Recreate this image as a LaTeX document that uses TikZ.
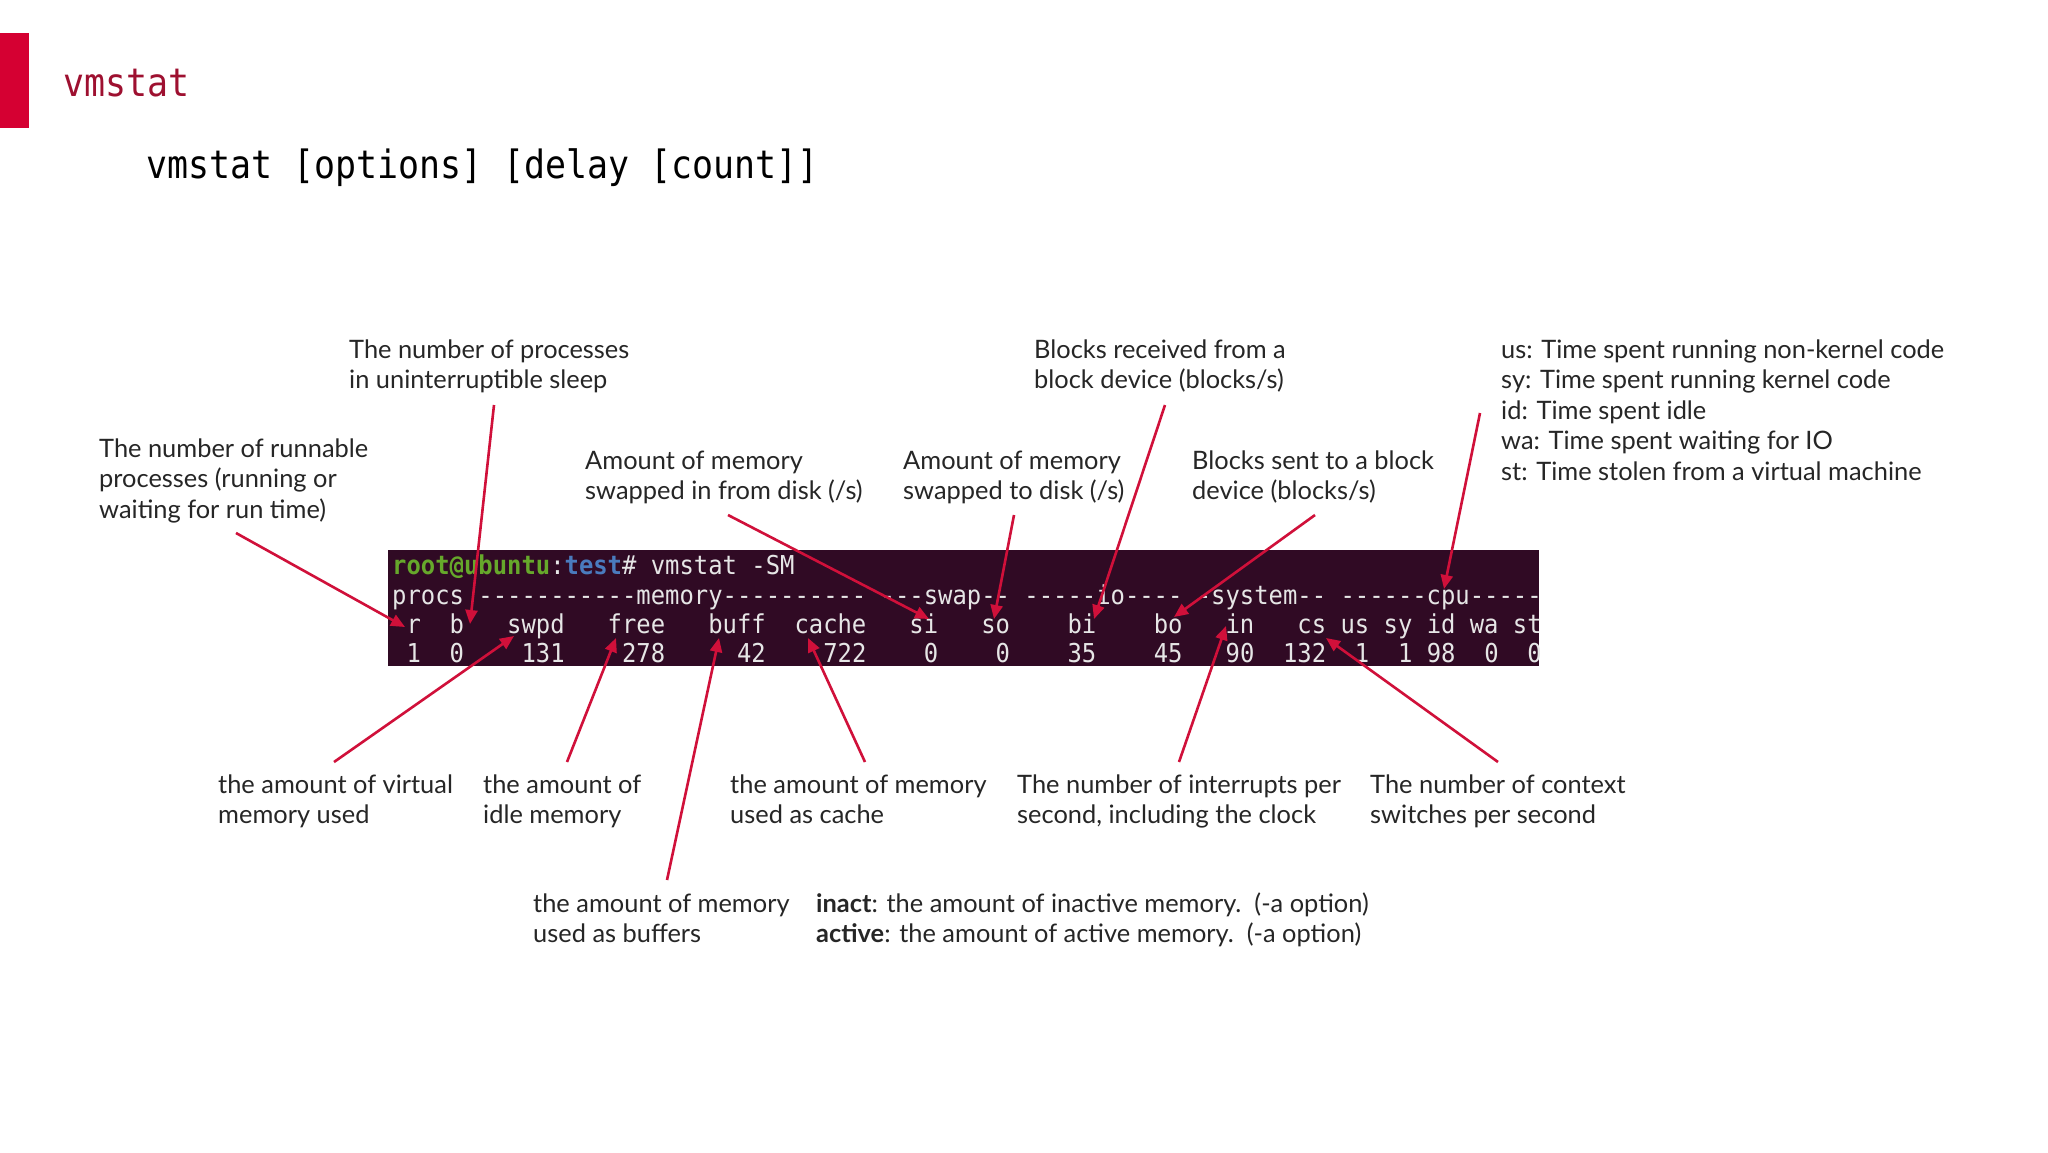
\documentclass[tikz,border=0pt]{standalone}
\usepackage{fontspec}
\setmainfont{Lato}
\newfontfamily\termfont{DejaVu Sans Mono}[FakeStretch=0.918,Ligatures=TeXOff]
\newfontfamily\cmdfont{DejaVu Sans Mono}[FakeStretch=0.895,Ligatures=TeXOff]
\usetikzlibrary{arrows.meta}
\definecolor{barred}{HTML}{D50032}
\definecolor{titlered}{HTML}{9E1030}
\definecolor{arrowred}{HTML}{D0103A}
\definecolor{termbg}{HTML}{300A24}
\definecolor{termfg}{HTML}{E6E6E6}
\definecolor{tgreen}{HTML}{66A82B}
\definecolor{tblue}{HTML}{4A7BBE}
\definecolor{lbltext}{HTML}{262626}
\tikzset{
  lbl/.style={anchor=base west, inner sep=0pt, align=left, text=lbltext,
    font=\fontsize{25.4}{30.5}\selectfont},
  ptr/.style={draw=arrowred, line width=2.6pt, -{Triangle[length=14pt,width=12pt]}},
  termrow/.style={anchor=base west, inner sep=0pt, text=termfg,
    font=\termfont\fontsize{26}{28}\selectfont},
  cmdtext/.style={anchor=base west, inner sep=0pt, font=\cmdfont\fontsize{39}{40}\selectfont}
}
\begin{document}
\begin{tikzpicture}[x=1pt,y=-1pt]
\useasboundingbox (0,0) rectangle (2048,1152);
\fill[white] (0,0) rectangle (2048,1152);

% header
\fill[barred] (0,33) rectangle (29,128);
\node[cmdtext, text=titlered] (title) at (63,96) {vmstat};
\node[cmdtext, text=black] (cmd) at (146,178) {vmstat [options] [delay [count]]};

% terminal
\node[fill=termbg, inner sep=0pt, minimum width=1151pt, minimum height=116pt,
      anchor=north west] (term) at (388,550) {};
\begin{scope}
\clip (term.north west) rectangle (term.south east);
\node[termrow] (row1) at (392,574) {{\bfseries\color{tgreen}root@ubuntu}:{\bfseries\color{tblue}test}\#~vmstat~-SM};
\node[termrow] (row2) at (392,604) {procs~-----------memory----------~---swap--~-----io----~-system--~------cpu-----};
\node[termrow] (row3) at (392,633) {~r~~b~~~swpd~~~free~~~buff~~cache~~~si~~~so~~~~bi~~~~bo~~~in~~~cs~us~sy~id~wa~st};
\node[termrow] (row4) at (392,662) {~1~~0~~~~131~~~~278~~~~~42~~~~722~~~~0~~~~0~~~~35~~~~45~~~90~~132~~1~~1~98~~0~~0};
\end{scope}

% upper labels (anchor = baseline of last line)
\node[lbl] (lrun) at (99,518) {The number of runnable\\processes (running or\\waiting for run time)};
\node[lbl] (lsleep) at (349,388.5) {The number of processes\\in uninterruptible sleep};
\node[lbl] (lsi) at (585,499.5) {Amount of memory\\swapped in from disk (/s)};
\node[lbl] (lso) at (903,499.5) {Amount of memory\\swapped to disk (/s)};
\node[lbl] (lbi) at (1034,388.5) {Blocks received from a\\block device (blocks/s)};
\node[lbl] (lbo) at (1192,499.5) {Blocks sent to a block\\device (blocks/s)};
\node[lbl] (lcpu) at (1501,480) {us: Time spent running non-kernel code\\sy: Time spent running kernel code\\id: Time spent idle\\wa: Time spent waiting for IO\\st: Time stolen from a virtual machine};

% lower labels
\node[lbl] (lswpd) at (218,823.5) {the amount of virtual\\memory used};
\node[lbl] (lfree) at (483,823.5) {the amount of\\idle memory};
\node[lbl] (lcache) at (730,823.5) {the amount of memory\\used as cache};
\node[lbl] (lin) at (1017,823.5) {The number of interrupts per\\second, including the clock};
\node[lbl] (lcs) at (1370,823.5) {The number of context\\switches per second};
\node[lbl] (lbuff) at (533,942.5) {the amount of memory\\used as buffers};
\node[lbl] (lact) at (816,942.5) {\textbf{inact}: the amount of inactive memory.\ \ (-a option)\\\textbf{active}: the amount of active memory.\ \ (-a option)};

% connector end points
\coordinate (sR) at (236,533);   \coordinate (eR) at (405,627);
\coordinate (sB) at (494,405);   \coordinate (eB) at (470,624);
\coordinate (sSi) at (728,515);  \coordinate (eSi) at (929,619);
\coordinate (sSo) at (1014,515); \coordinate (eSo) at (994,619);
\coordinate (sBi) at (1165,405); \coordinate (eBi) at (1094,619);
\coordinate (sBo) at (1315,515); \coordinate (eBo) at (1174,617);
\coordinate (sCpu) at (1480,413);\coordinate (eCpu) at (1444,589);
\coordinate (sSwpd) at (334,762);\coordinate (eSwpd) at (514,636);
\coordinate (sFree) at (567,762);\coordinate (eFree) at (616,638);
\coordinate (sBuff) at (667,880);\coordinate (eBuff) at (719,638);
\coordinate (sCache) at (865,762);\coordinate (eCache) at (808,638);
\coordinate (sIn) at (1179,762); \coordinate (eIn) at (1226,626);
\coordinate (sCs) at (1498,762); \coordinate (eCs) at (1326,638);

\draw[ptr] (sR) -- (eR);
\draw[ptr] (sB) -- (eB);
\draw[ptr] (sSi) -- (eSi);
\draw[ptr] (sSo) -- (eSo);
\draw[ptr] (sBi) -- (eBi);
\draw[ptr] (sBo) -- (eBo);
\draw[ptr] (sCpu) -- (eCpu);
\draw[ptr] (sSwpd) -- (eSwpd);
\draw[ptr] (sFree) -- (eFree);
\draw[ptr] (sBuff) -- (eBuff);
\draw[ptr] (sCache) -- (eCache);
\draw[ptr] (sIn) -- (eIn);
\draw[ptr] (sCs) -- (eCs);
\end{tikzpicture}
\end{document}
